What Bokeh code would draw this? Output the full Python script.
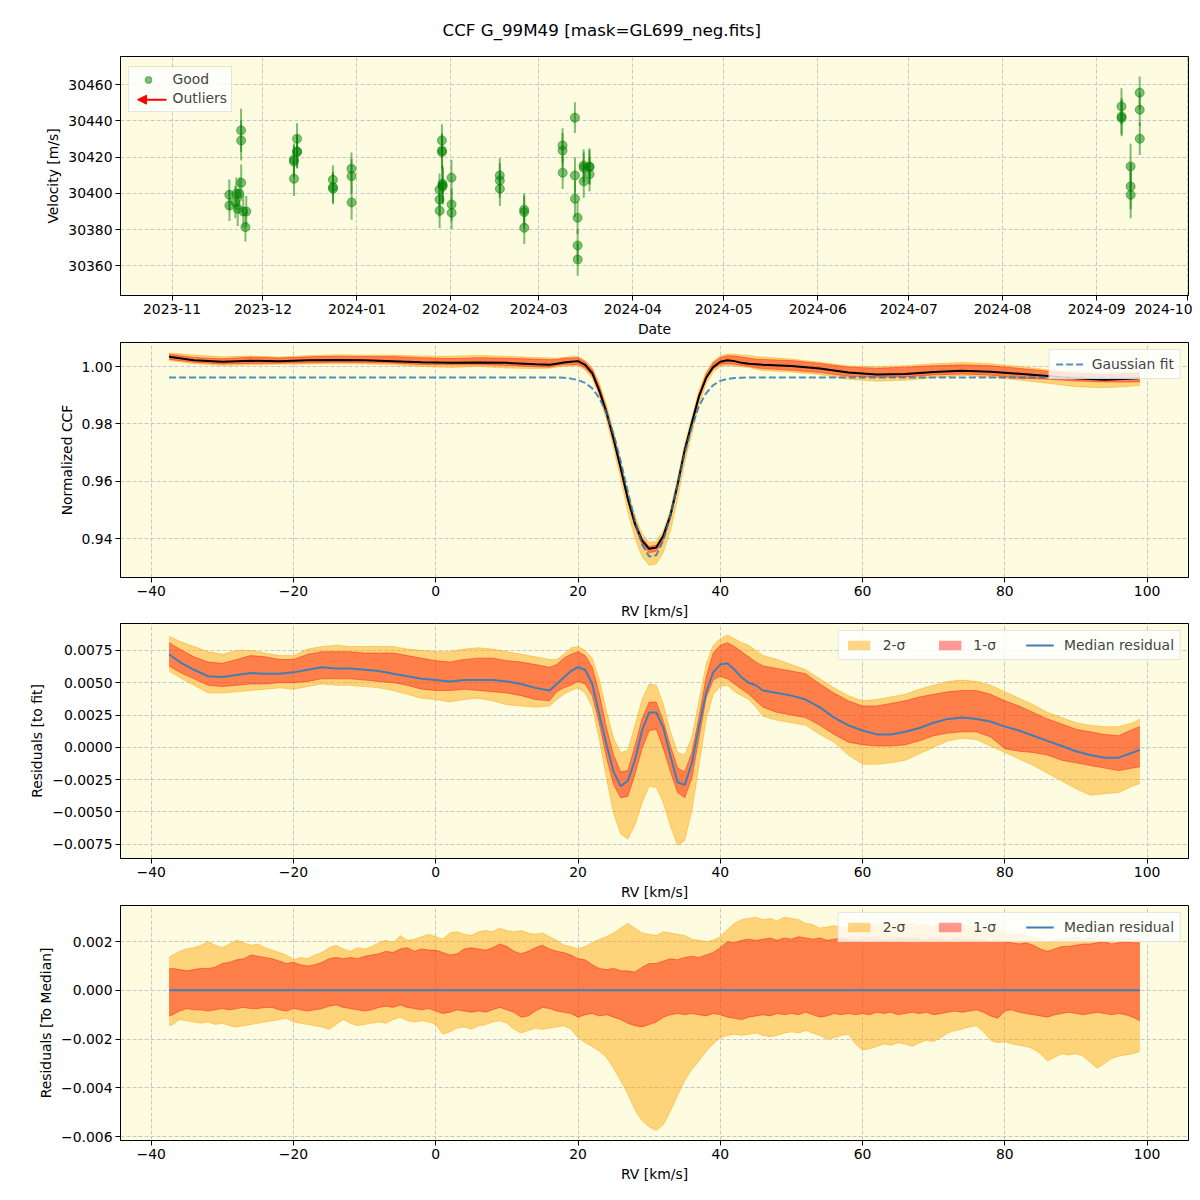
import pandas as pd
from bokeh.plotting import figure
from bokeh.layouts import column
from bokeh.models import (ColumnDataSource, Range1d, Legend, LegendItem, Arrow,
                          NormalHead, FixedTicker, DatetimeTickFormatter,
                          CustomJSTickFormatter, BoxAnnotation)
from bokeh.embed import file_html
from bokeh.resources import INLINE

# ---------------------------------------------------------------- data
TITLE = "CCF G_99M49 [mask=GL699_neg.fits]"

obs_time = [
    "2023-11-19 21:30", "2023-11-19 22:30", "2023-11-21 21:00", "2023-11-22 05:00",
    "2023-11-22 16:00", "2023-11-23 05:00", "2023-11-23 18:30", "2023-11-23 19:00",
    "2023-11-23 19:30", "2023-11-24 12:00", "2023-11-25 05:00", "2023-11-25 12:00",
    "2023-12-11 04:30", "2023-12-11 05:00", "2023-12-11 05:30",
    "2023-12-12 05:30", "2023-12-12 06:00", "2023-12-12 06:30",
    "2023-12-24 01:30", "2023-12-24 02:00", "2023-12-24 02:30",
    "2023-12-30 04:30", "2023-12-30 05:00", "2023-12-30 05:30",
    "2024-01-28 05:30", "2024-01-28 06:00", "2024-01-28 06:30",
    "2024-01-29 00:30", "2024-01-29 01:00", "2024-01-29 01:30",
    "2024-01-29 05:00", "2024-01-29 05:30", "2024-01-29 06:00",
    "2024-02-01 04:30", "2024-02-01 05:00", "2024-02-01 05:30",
    "2024-02-17 02:30", "2024-02-17 03:00", "2024-02-17 03:30",
    "2024-02-25 03:30", "2024-02-25 04:00", "2024-02-25 04:30",
    "2024-03-08 19:30", "2024-03-08 20:00", "2024-03-08 20:30",
    "2024-03-12 21:30", "2024-03-12 22:00", "2024-03-12 22:30",
    "2024-03-13 18:30", "2024-03-13 19:00", "2024-03-13 19:30",
    "2024-03-15 18:30", "2024-03-15 19:00", "2024-03-15 19:30",
    "2024-03-17 16:30", "2024-03-17 17:00", "2024-03-17 17:30",
    "2024-09-09 04:30", "2024-09-09 05:00", "2024-09-09 05:30",
    "2024-09-12 04:30", "2024-09-12 05:00", "2024-09-12 05:30",
    "2024-09-15 04:30", "2024-09-15 05:00", "2024-09-15 05:30",
]
obs_rv = [
    30399.2, 30393.3, 30395.2, 30399.8, 30391.5, 30399.8, 30434.8, 30429.2,
    30405.9, 30390.0, 30381.4, 30390.0,
    30417.6, 30418.7, 30408.1, 30430.2, 30422.8, 30423.2,
    30407.5, 30403.5, 30402.5, 30413.6, 30409.5, 30395.0,
    30402.0, 30396.6, 30390.4, 30429.2, 30423.7, 30422.8,
    30405.3, 30404.4, 30403.8, 30408.6, 30393.9, 30389.3,
    30409.9, 30407.1, 30402.5, 30391.0, 30389.7, 30381.0,
    30426.5, 30423.7, 30411.4, 30441.8, 30409.9, 30397.0,
    30386.5, 30371.2, 30363.5, 30415.4, 30414.1, 30406.6,
    30414.9, 30414.5, 30410.5,
    30448.0, 30442.5, 30441.6, 30414.9, 30403.8, 30399.2,
    30455.6, 30446.2, 30430.2,
]
obs_err = [
    8.5, 8.5, 9.0, 9.0, 9.5, 9.0, 12.0, 11.0, 10.0, 9.0, 8.0, 8.5,
    9.0, 9.0, 9.5, 8.5, 9.0, 9.0,
    8.0, 8.5, 8.5, 9.0, 9.5, 9.5,
    9.0, 9.5, 9.5, 9.0, 9.5, 9.5, 10.0, 10.0, 10.0, 10.0, 9.0, 9.0,
    9.5, 9.5, 9.5, 9.0, 9.0, 9.0,
    9.5, 9.5, 9.0, 8.5, 10.0, 10.0, 9.0, 9.0, 9.0, 9.0, 8.5, 9.0,
    10.0, 9.5, 9.5,
    10.0, 10.0, 10.0, 12.5, 12.5, 13.0, 9.0, 9.0, 9.0,
]

month_ticks = ["2023-11-01", "2023-12-01", "2024-01-01", "2024-02-01",
               "2024-03-01", "2024-04-01", "2024-05-01", "2024-06-01",
               "2024-07-01", "2024-08-01", "2024-09-01", "2024-10-01"]
vel_ticks = [30360, 30380, 30400, 30420, 30440, 30460]
rv_ticks = [-40, -20, 0, 20, 40, 60, 80, 100]
ccf_ticks = [0.94, 0.96, 0.98, 1.00]
res_ticks = [-0.0075, -0.005, -0.0025, 0.0, 0.0025, 0.005, 0.0075]
med_ticks = [-0.006, -0.004, -0.002, 0.0, 0.002]

# --- panel 2: normalized CCF (median, 1/2-sigma envelopes) and Gaussian fit
rv2 = [-37.5, -34, -30, -26, -22, -18, -14, -10, -6, -2, 2, 6, 10, 14, 16,
       17, 18, 19, 20, 21, 22, 23, 24, 25, 26, 27, 28, 29, 30, 31, 32, 33, 34,
       35, 36, 37, 38, 39, 40, 41, 42, 43, 44, 45,
       46, 50, 54, 58, 62, 66, 70, 74, 78, 82, 86, 90, 94, 98, 99]
ccf_med = [1.0034, 1.0022, 1.0017, 1.0020, 1.0019, 1.0022, 1.0023, 1.0022, 1.0019, 1.0015,
           1.0013, 1.0014, 1.0013, 1.0008, 1.0006,
           1.0010, 1.0014, 1.0017, 1.0019, 1.0006, 0.9977, 0.9915, 0.9840, 0.9747, 0.9645,
           0.9539, 0.9452, 0.9393, 0.9364, 0.9369, 0.9410, 0.9482, 0.9588, 0.9708, 0.9803,
           0.9896, 0.9960, 0.9998, 1.0017, 1.0022, 1.0019, 1.0013, 1.0010, 1.0008,
           1.0006, 1.0002, 0.9993, 0.9979, 0.9972, 0.9974, 0.9981, 0.9985, 0.9982, 0.9975,
           0.9967, 0.9959, 0.9954, 0.9958, 0.9960]
ccf_2s_hi = [1.0048, 1.0040, 1.0034, 1.0037, 1.0033, 1.0038, 1.0041, 1.0040, 1.0040, 1.0037,
             1.0036, 1.0039, 1.0036, 1.0032, 1.0030,
             1.0029, 1.0032, 1.0035, 1.0035, 1.0021, 0.9997, 0.9942, 0.9866, 0.9773, 0.9671,
             0.9563, 0.9479, 0.9417, 0.9386, 0.9390, 0.9428, 0.9501, 0.9611, 0.9731, 0.9823,
             0.9916, 0.9982, 1.0019, 1.0037, 1.0044, 1.0043, 1.0040, 1.0039, 1.0035,
             1.0033, 1.0026, 1.0015, 1.0002, 0.9999, 1.0003, 1.0010, 1.0014, 1.0010, 1.0000,
             0.9989, 0.9981, 0.9978, 0.9981, 0.9984]
ccf_1s_hi = [1.0043, 1.0032, 1.0027, 1.0033, 1.0030, 1.0034, 1.0036, 1.0035, 1.0035, 1.0031,
             1.0028, 1.0031, 1.0029, 1.0026, 1.0024,
             1.0025, 1.0029, 1.0030, 1.0031, 1.0017, 0.9990, 0.9931, 0.9853, 0.9760, 0.9656,
             0.9547, 0.9463, 0.9402, 0.9372, 0.9377, 0.9415, 0.9490, 0.9599, 0.9718, 0.9811,
             0.9903, 0.9972, 1.0013, 1.0032, 1.0038, 1.0037, 1.0033, 1.0030, 1.0026,
             1.0025, 1.0021, 1.0011, 0.9998, 0.9994, 0.9998, 1.0003, 1.0006, 1.0003, 0.9994,
             0.9984, 0.9976, 0.9972, 0.9976, 0.9978]
ccf_1s_lo = [1.0025, 1.0015, 1.0009, 1.0011, 1.0012, 1.0013, 1.0015, 1.0014, 1.0012, 1.0007,
             1.0006, 1.0006, 1.0004, 0.9999, 0.9998,
             1.0004, 1.0006, 1.0006, 1.0008, 0.9995, 0.9968, 0.9908, 0.9830, 0.9737, 0.9636,
             0.9527, 0.9441, 0.9379, 0.9350, 0.9356, 0.9394, 0.9470, 0.9580, 0.9698, 0.9791,
             0.9887, 0.9956, 0.9992, 1.0008, 1.0010, 1.0008, 1.0004, 1.0001, 0.9996,
             0.9993, 0.9987, 0.9979, 0.9966, 0.9963, 0.9964, 0.9971, 0.9974, 0.9970, 0.9959,
             0.9956, 0.9950, 0.9946, 0.9946, 0.9947]
ccf_2s_lo = [1.0021, 1.0010, 1.0004, 1.0006, 1.0008, 1.0009, 1.0010, 1.0009, 1.0006, 1.0000,
             0.9997, 1.0000, 0.9995, 0.9993, 0.9994,
             0.9998, 1.0001, 1.0002, 1.0003, 0.9988, 0.9959, 0.9896, 0.9814, 0.9715, 0.9608,
             0.9494, 0.9402, 0.9337, 0.9307, 0.9311, 0.9352, 0.9428, 0.9539, 0.9665, 0.9766,
             0.9866, 0.9939, 0.9981, 1.0000, 1.0005, 1.0002, 0.9999, 0.9997, 0.9991,
             0.9986, 0.9981, 0.9972, 0.9956, 0.9949, 0.9952, 0.9962, 0.9969, 0.9963, 0.9953,
             0.9942, 0.9930, 0.9926, 0.9932, 0.9934]
gauss_fit = [0.9962, 0.9962, 0.9962, 0.9962, 0.9962, 0.9962, 0.9962, 0.9962, 0.9962, 0.9962,
             0.9962, 0.9962, 0.9962, 0.9962, 0.9962,
             0.9962, 0.9961, 0.9958, 0.9953, 0.9943, 0.9924, 0.9890, 0.9838, 0.9764, 0.9670,
             0.9564, 0.9462, 0.9380, 0.9337, 0.9342, 0.9394, 0.9481, 0.9586, 0.9697, 0.9790,
             0.9862, 0.9907, 0.9935, 0.9950, 0.9957, 0.9960, 0.9961, 0.9962, 0.9962,
             0.9962, 0.9962, 0.9962, 0.9962, 0.9962, 0.9962, 0.9962, 0.9962, 0.9962, 0.9962,
             0.9962, 0.9962, 0.9962, 0.9962, 0.9962]

# --- panel 3: residuals to fit (values in units of 1e-3)
rv3 = [-37.5, -36, -34, -32, -30, -28, -26, -24, -22, -20, -18, -16, -14, -12,
       -10, -8, -6, -4, -2, 0, 2, 4, 6, 8, 10, 12, 14, 16,
       17, 18, 19, 20, 21, 22, 23, 24, 25, 26, 27, 28, 29, 30, 31, 32, 33, 34,
       35, 36, 37, 38, 39, 40, 41, 42, 43, 44, 45,
       46, 48, 50, 52, 54, 56, 58, 60, 62, 64, 66, 68, 70, 72, 74, 76, 78, 80,
       82, 84, 86, 88, 90, 92, 94, 96, 98, 99]
res_med_e3 = [7.2, 6.6, 6.0, 5.5, 5.45, 5.6, 5.75, 5.7, 5.7, 5.8, 6.0, 6.2, 6.1, 6.1,
              6.0, 5.9, 5.7, 5.5, 5.3, 5.2, 5.1, 5.2, 5.2, 5.2, 5.1, 4.9, 4.6, 4.4,
              4.9, 5.4, 5.9, 6.2, 6.0, 4.9, 2.5, 0.2, -1.9, -3.0, -2.6, -1.0, 1.3, 2.7,
              2.7, 1.5, -0.7, -2.7, -2.9, -1.2, 1.6, 4.2, 5.8, 6.4, 6.5, 6.0, 5.4, 5.0, 4.8,
              4.4, 4.2, 4.0, 3.7, 3.1, 2.3, 1.7, 1.3, 1.0, 1.0, 1.2, 1.5, 1.9, 2.2,
              2.3, 2.2, 2.0, 1.6, 1.3, 0.9, 0.5, 0.1, -0.3, -0.6, -0.8, -0.8, -0.4, -0.2]
res_2s_hi_e3 = [8.6, 8.2, 7.8, 7.4, 7.2, 7.5, 7.5, 7.3, 7.1, 7.1, 7.6, 7.8, 7.9, 7.8,
                7.8, 7.8, 7.8, 7.6, 7.5, 7.4, 7.4, 7.6, 7.7, 7.6, 7.4, 7.2, 7.0, 6.8,
                6.8, 7.2, 7.7, 7.8, 7.5, 6.9, 5.2, 2.8, 0.7, -0.4, -0.25, 1.7, 3.7, 4.9,
                4.8, 3.3, 1.2, -0.4, -0.6, 0.8, 3.6, 6.4, 7.9, 8.4, 8.7, 8.4, 8.1, 7.9, 7.5,
                7.1, 6.8, 6.4, 6.0, 5.3, 4.6, 4.0, 3.6, 3.7, 3.9, 4.1, 4.5, 4.8, 5.1,
                5.2, 5.1, 4.8, 4.3, 3.8, 3.3, 2.7, 2.3, 1.9, 1.7, 1.6, 1.6, 1.9, 2.2]
res_1s_hi_e3 = [8.1, 7.6, 7.0, 6.6, 6.5, 6.8, 7.1, 7.0, 6.8, 6.8, 7.2, 7.4, 7.4, 7.4,
                7.3, 7.3, 7.3, 7.1, 6.9, 6.7, 6.6, 6.8, 6.9, 6.9, 6.7, 6.6, 6.4, 6.2,
                6.4, 6.9, 7.2, 7.4, 7.1, 6.2, 4.1, 1.5, -0.6, -1.9, -1.8, 0.1, 2.2, 3.5,
                3.5, 2.0, 0.1, -1.6, -1.9, -0.4, 2.3, 5.4, 7.3, 7.9, 8.1, 7.8, 7.4, 7.0, 6.6,
                6.3, 6.1, 5.9, 5.7, 4.9, 4.2, 3.6, 3.2, 3.2, 3.4, 3.6, 3.9, 4.1, 4.3,
                4.4, 4.4, 4.1, 3.6, 3.2, 2.7, 2.2, 1.8, 1.4, 1.2, 1.0, 0.9, 1.4, 1.6]
res_1s_lo_e3 = [6.3, 5.8, 5.3, 4.8, 4.7, 4.8, 4.9, 4.9, 5.0, 5.0, 5.1, 5.3, 5.3, 5.3,
                5.2, 5.1, 5.0, 4.8, 4.5, 4.4, 4.4, 4.5, 4.4, 4.3, 4.2, 4.0, 3.7, 3.6,
                4.3, 4.6, 4.8, 5.1, 4.9, 4.0, 1.8, -0.8, -2.9, -3.9, -3.8, -2.1, -0.1, 1.3,
                1.4, -0.1, -1.9, -3.5, -3.9, -2.4, 0.7, 3.8, 5.2, 5.5, 5.3, 4.9, 4.5, 4.1, 3.6,
                3.1, 2.7, 2.5, 2.3, 1.7, 1.0, 0.4, 0.2, 0.1, 0.1, 0.2, 0.5, 0.9, 1.1,
                1.2, 1.2, 0.8, -0.1, -0.3, -0.4, -0.6, -1.0, -1.2, -1.4, -1.6, -1.8, -1.6, -1.5]
res_2s_lo_e3 = [5.9, 5.4, 4.8, 4.2, 4.2, 4.3, 4.4, 4.5, 4.6, 4.5, 4.7, 4.9, 4.8, 4.8,
                4.7, 4.6, 4.4, 4.1, 3.8, 3.7, 3.5, 3.7, 3.8, 3.6, 3.3, 3.2, 3.1, 3.2,
                3.7, 4.1, 4.4, 4.6, 4.2, 3.1, 0.6, -2.4, -5.1, -6.7, -7.1, -6.0, -4.3, -3.0,
                -3.1, -4.3, -6.1, -7.6, -7.2, -4.9, -1.4, 2.1, 4.1, 4.7, 4.8, 4.3, 4.0, 3.7, 3.1,
                2.4, 2.1, 1.9, 1.7, 1.0, 0.4, -0.6, -1.3, -1.3, -1.2, -1.0, -0.5, 0.0, 0.5,
                0.7, 0.6, 0.1, -0.4, -0.9, -1.4, -2.0, -2.6, -3.2, -3.7, -3.6, -3.5, -3.0, -2.8]

# --- panel 4: residuals to median (values in units of 1e-3)
rv4 = [-37.5, -37, -36, -35, -34, -33, -32, -31, -30,
       -29, -28, -27, -26, -25, -24, -23, -22, -21, -20,
       -19, -18, -17, -16, -15, -14, -13, -12, -11, -10,
       -9, -8, -7, -6, -5, -4, -3, -2, -1, 0,
       1, 2, 3, 4, 5, 6, 7, 8, 9, 10,
       11, 12, 13, 14, 15, 16, 17, 18, 19, 20,
       21, 22, 23, 24, 25, 26, 27, 28, 29, 30,
       31, 32, 33, 34, 35, 36, 37, 38, 39, 40,
       41, 42, 43, 44, 45, 46, 47, 48, 49, 50,
       51, 52, 53, 54, 55, 56, 57, 58, 59, 60,
       61, 62, 63, 64, 65, 66, 67, 68, 69, 70,
       71, 72, 73, 74, 75, 76, 77, 78, 79, 80,
       81, 82, 83, 84, 85, 86, 87, 88, 89, 90,
       91, 92, 93, 94, 95, 96, 97, 98, 99]
dev_2s_hi_e3 = [1.35, 1.45, 1.6, 1.7, 1.75, 1.85, 2.0, 1.85, 1.75,
                1.9, 2.05, 1.95, 1.85, 1.9, 1.75, 1.65, 1.55, 1.45, 1.25,
                1.35, 1.3, 1.45, 1.55, 1.75, 1.85, 1.7, 1.6, 1.75, 1.7,
                1.8, 1.95, 2.05, 1.95, 2.25, 2.05, 2.1, 2.2, 2.3, 2.2,
                2.1, 2.35, 2.4, 2.3, 2.25, 2.4, 2.45, 2.4, 2.55, 2.45,
                2.4, 2.45, 2.35, 2.3, 2.35, 2.2, 2.05, 1.85, 1.8, 1.7,
                1.8, 1.95, 2.1, 2.2, 2.35, 2.55, 2.75, 2.55, 2.35, 2.3,
                2.25, 2.4, 2.35, 2.3, 2.25, 2.1, 2.05, 2.0, 2.05, 2.2,
                2.5, 2.75, 2.9, 2.95, 3.0, 2.9, 2.95, 2.85, 3.0, 2.95,
                2.9, 2.75, 2.7, 2.55, 2.6, 2.65, 2.6, 2.55, 2.65, 2.6,
                2.7, 2.65, 2.75, 2.7, 2.8, 2.7, 2.75, 2.65, 2.7, 2.6,
                2.7, 2.65, 2.6, 2.7, 2.6, 2.65, 2.55, 2.5, 2.45, 2.4,
                2.3, 2.35, 2.25, 2.2, 2.1, 1.95, 2.05, 2.1, 2.15, 2.2,
                2.1, 2.15, 2.2, 2.1, 2.15, 2.1, 2.15, 2.1, 2.1]
dev_1s_hi_e3 = [0.9, 0.9, 0.85, 0.8, 0.85, 0.9, 0.9, 0.95, 1.1,
                1.15, 1.25, 1.3, 1.45, 1.4, 1.35, 1.3, 1.2, 1.1, 1.15,
                1.05, 1.0, 1.05, 1.15, 1.3, 1.35, 1.3, 1.35, 1.3, 1.4,
                1.45, 1.5, 1.6, 1.55, 1.7, 1.75, 1.6, 1.7, 1.65, 1.65,
                1.55, 1.45, 1.5, 1.7, 1.75, 1.7, 1.65, 1.75, 1.9, 1.8,
                1.6, 1.5, 1.6, 1.75, 1.85, 1.7, 1.6, 1.55, 1.45, 1.3,
                1.25, 1.05, 0.9, 0.85, 0.9, 0.8, 0.8, 0.75, 0.95, 1.1,
                1.1, 1.2, 1.3, 1.25, 1.35, 1.4, 1.35, 1.45, 1.55, 1.75,
                2.0, 1.95, 2.05, 2.1, 2.05, 2.1, 2.15, 2.05, 2.15, 2.1,
                2.2, 2.15, 2.1, 2.15, 2.05, 2.1, 2.15, 2.1, 2.05, 2.1,
                2.15, 2.1, 2.05, 2.1, 2.15, 2.1, 2.15, 2.1, 2.05, 2.15,
                2.1, 2.05, 2.15, 2.1, 2.05, 2.1, 2.05, 2.0, 2.05, 2.0,
                1.95, 1.9, 1.95, 1.85, 1.7, 1.6, 1.7, 1.8, 1.8, 1.85,
                1.9, 1.9, 1.95, 2.0, 1.9, 1.95, 2.0, 1.95, 1.95]
dev_1s_lo_e3 = [-1.05, -1.0, -0.85, -0.75, -0.8, -0.8, -0.85, -0.8, -0.75,
                -0.8, -0.75, -0.7, -0.75, -0.75, -0.7, -0.7, -0.8, -0.85, -0.75,
                -0.8, -0.85, -0.8, -0.75, -0.65, -0.6, -0.7, -0.75, -0.8, -0.85,
                -0.8, -0.7, -0.65, -0.7, -0.6, -0.7, -0.75, -0.8, -0.75, -0.85,
                -0.95, -0.9, -0.8, -0.85, -0.9, -0.85, -0.9, -0.8, -0.7, -0.8,
                -0.9, -1.1, -1.05, -0.85, -0.7, -0.75, -0.85, -0.9, -0.95, -1.1,
                -1.0, -0.95, -1.05, -1.0, -1.1, -1.2, -1.35, -1.45, -1.5, -1.4,
                -1.3, -1.1, -1.0, -0.95, -1.0, -0.95, -1.0, -1.05, -0.95, -1.0,
                -1.1, -1.15, -1.2, -1.1, -1.05, -1.0, -1.05, -0.95, -1.0, -0.95,
                -1.0, -0.9, -1.0, -1.1, -1.05, -0.95, -1.0, -0.95, -1.0, -0.95,
                -1.0, -0.9, -0.95, -0.9, -1.0, -0.95, -0.9, -0.95, -0.9, -1.0,
                -0.95, -0.9, -0.85, -0.9, -0.85, -0.8, -0.9, -1.05, -1.15, -0.85,
                -0.8, -0.9, -0.95, -1.0, -1.05, -1.1, -1.0, -0.95, -0.9, -0.95,
                -1.0, -0.95, -0.9, -0.95, -1.0, -0.95, -1.0, -1.1, -1.25]
dev_2s_lo_e3 = [-1.45, -1.4, -1.2, -1.25, -1.3, -1.35, -1.3, -1.4, -1.35,
                -1.45, -1.5, -1.45, -1.4, -1.35, -1.3, -1.25, -1.2, -1.15, -1.3,
                -1.35, -1.4, -1.45, -1.5, -1.6, -1.4, -1.2, -1.35, -1.45, -1.4,
                -1.35, -1.3, -1.35, -1.2, -1.1, -1.25, -1.3, -1.25, -1.3, -1.4,
                -1.8, -1.7, -1.55, -1.5, -1.6, -1.45, -1.4, -1.3, -1.25, -1.35,
                -1.6, -1.75, -1.65, -1.55, -1.6, -1.55, -1.5, -1.45, -1.6, -1.95,
                -2.15, -2.3, -2.5, -2.75, -3.2, -3.7, -4.25, -4.9, -5.35, -5.6,
                -5.75, -5.5, -4.95, -4.3, -3.7, -3.25, -2.9, -2.5, -2.2, -1.95,
                -1.85, -1.8, -1.85, -1.8, -1.75, -1.85, -1.9, -1.85, -1.75, -1.7,
                -1.75, -1.65, -1.75, -1.85, -2.0, -1.95, -1.85, -1.8, -2.2, -2.45,
                -2.4, -2.3, -2.2, -2.25, -2.15, -2.2, -2.3, -2.15, -2.05, -2.1,
                -1.95, -1.75, -1.65, -1.6, -1.5, -1.45, -1.7, -2.05, -2.15, -2.1,
                -2.2, -2.25, -2.3, -2.4, -2.6, -2.9, -2.75, -2.6, -2.65, -2.6,
                -2.7, -2.95, -3.2, -3.0, -2.8, -2.7, -2.65, -2.6, -2.5]
dev_med_rv = [-37.5, 99.0]
dev_med = [0.0, 0.0]

# ---------------------------------------------------------------- style
FONT = "DejaVu Sans"
FS = "13.9px"
BG = "#fefce0"
ORANGE = "#ffa500"
RED = "#ff0000"
BLUE = "#3f7fb5"
GRID = "#c8c8c8"
W = 1192
E3 = 1e-3


def make_fig(height, top, x_range, y_range, x_type="linear"):
    p = figure(width=W, height=height, x_range=x_range, y_range=y_range,
               x_axis_type=x_type, output_backend="svg", toolbar_location=None,
               min_border_left=120, min_border_right=4, min_border_top=top,
               min_border_bottom=44, background_fill_color=BG,
               border_fill_color="white", outline_line_color="black",
               outline_line_width=1)
    return p


def style(p, xlabel, ylabel):
    p.xaxis.axis_label = xlabel
    p.yaxis.axis_label = ylabel
    for ax in (p.xaxis[0], p.yaxis[0]):
        ax.axis_line_color = "black"
        ax.major_tick_line_color = "black"
        ax.major_tick_out = 5
        ax.major_tick_in = 0
        ax.minor_tick_out = 0
        ax.minor_tick_in = 0
        ax.major_label_text_font = FONT
        ax.major_label_text_font_size = FS
        ax.major_label_text_color = "black"
        ax.axis_label_text_font = FONT
        ax.axis_label_text_font_size = FS
        ax.axis_label_text_font_style = "normal"
        ax.axis_label_text_color = "black"
        ax.major_label_standoff = 3
        ax.axis_label_standoff = 4
    p.grid.grid_line_color = GRID
    p.grid.grid_line_dash = "4 2"
    p.grid.grid_line_width = 1


def fmt(digits):
    return CustomJSTickFormatter(
        code="return tick.toFixed(%d).replace('-', '\u2212');" % digits)


def legend_style(leg):
    leg.label_text_font = FONT
    leg.label_text_font_size = FS
    leg.background_fill_color = "white"
    leg.background_fill_alpha = 0.8
    leg.border_line_color = "#cccccc"
    leg.border_line_width = 1


# ---------------------------------------------------------------- panel 1
t = pd.to_datetime(obs_time)
src1 = ColumnDataSource(dict(
    t=t, v=obs_rv,
    lo=[v - e for v, e in zip(obs_rv, obs_err)],
    hi=[v + e for v, e in zip(obs_rv, obs_err)]))

p1 = make_fig(339, 56,
              Range1d(pd.Timestamp("2023-10-15 00:00"), pd.Timestamp("2024-10-01 07:00")),
              Range1d(30343.6, 30475.6), x_type="datetime")
style(p1, "Date", "Velocity [m/s]")
p1.xaxis.ticker = FixedTicker(ticks=[pd.Timestamp(m).value / 1e6 for m in month_ticks])
p1.xaxis.formatter = DatetimeTickFormatter(
    microseconds="%Y-%m", milliseconds="%Y-%m", seconds="%Y-%m", minsec="%Y-%m",
    minutes="%Y-%m", hourmin="%Y-%m", hours="%Y-%m", days="%Y-%m",
    months="%Y-%m", years="%Y-%m")
p1.yaxis.ticker = FixedTicker(ticks=vel_ticks)
p1.yaxis.formatter = fmt(0)

# white legend panel drawn beneath the arrow and the legend entries
p1.add_layout(BoxAnnotation(left=7.6, right=110.6, bottom=183.3, top=227.3,
                            left_units="screen", right_units="screen",
                            bottom_units="screen", top_units="screen",
                            fill_color="white", fill_alpha=0.8,
                            line_color=None, level="underlay"))

p1.segment(x0="t", y0="lo", x1="t", y1="hi", source=src1,
           line_color="green", line_alpha=0.5, line_width=2)
good = p1.scatter(x="t", y="v", source=src1, size=9, marker="circle",
                  fill_color="green", fill_alpha=0.5,
                  line_color="green", line_alpha=0.5, line_width=1)
outl = p1.line(x=[], y=[], line_color="red", line_alpha=0.0, line_width=2)

p1.title.text = TITLE
p1.title.align = "left"
p1.title.offset = 322
p1.title.text_font = FONT
p1.title.text_font_size = "16.7px"
p1.title.text_font_style = "normal"
p1.title.text_color = "black"
p1.title.standoff = 34

p1.add_layout(Arrow(x_start=46, y_start=195.8, x_end=17, y_end=195.8,
                    start_units="screen", end_units="screen",
                    line_color="red", line_width=2,
                    end=NormalHead(size=9, fill_color="red", line_color="red")))
leg1 = Legend(items=[LegendItem(label="Good", renderers=[good]),
                     LegendItem(label="Outliers", renderers=[outl])],
              location=(7.6, 183.3), orientation="vertical",
              padding=4, spacing=2, glyph_width=30, glyph_height=17,
              label_standoff=10, margin=0)
legend_style(leg1)
leg1.background_fill_alpha = 0.0
p1.add_layout(leg1)

# ---------------------------------------------------------------- panel 2
XR = (-44.325, 105.825)
src2 = ColumnDataSource(dict(rv=rv2, med=ccf_med, h2=ccf_2s_hi, h1=ccf_1s_hi,
                             l1=ccf_1s_lo, l2=ccf_2s_lo, g=gauss_fit))
p2 = make_fig(282, 3, Range1d(*XR), Range1d(0.9264, 1.0084))
style(p2, "RV [km/s]", "Normalized CCF")
p2.xaxis.ticker = FixedTicker(ticks=rv_ticks)
p2.xaxis.formatter = fmt(0)
p2.yaxis.ticker = FixedTicker(ticks=ccf_ticks)
p2.yaxis.formatter = fmt(2)
p2.varea(x="rv", y1="l2", y2="h2", source=src2, fill_color=ORANGE, fill_alpha=0.45)
p2.line(x="rv", y="l2", source=src2, line_color=ORANGE, line_alpha=0.45, line_width=1)
p2.line(x="rv", y="h2", source=src2, line_color=ORANGE, line_alpha=0.45, line_width=1)
p2.varea(x="rv", y1="l1", y2="h1", source=src2, fill_color=RED, fill_alpha=0.4)
p2.line(x="rv", y="l1", source=src2, line_color=RED, line_alpha=0.4, line_width=1)
p2.line(x="rv", y="h1", source=src2, line_color=RED, line_alpha=0.4, line_width=1)
p2.line(x="rv", y="med", source=src2, line_color="black", line_width=2)
gl = p2.line(x="rv", y="g", source=src2, line_color="#1f77b4", line_alpha=0.8,
             line_width=2, line_dash="7 3")
leg2 = Legend(items=[LegendItem(label="Gaussian fit", renderers=[gl])],
              location="top_right", margin=7, padding=6, spacing=0,
              glyph_width=28, glyph_height=14, label_standoff=8)
legend_style(leg2)
p2.add_layout(leg2)


# ---------------------------------------------------------------- panels 3 & 4
def band_panel(p, rv, med_rv, med, h2, h1, l1, l2):
    src = ColumnDataSource(dict(rv=rv, h2=h2, h1=h1, l1=l1, l2=l2))
    a2 = p.varea(x="rv", y1="l2", y2="h2", source=src, fill_color=ORANGE, fill_alpha=0.45)
    p.line(x="rv", y="l2", source=src, line_color=ORANGE, line_alpha=0.45, line_width=1)
    p.line(x="rv", y="h2", source=src, line_color=ORANGE, line_alpha=0.45, line_width=1)
    a1 = p.varea(x="rv", y1="l1", y2="h1", source=src, fill_color=RED, fill_alpha=0.4)
    p.line(x="rv", y="l1", source=src, line_color=RED, line_alpha=0.4, line_width=1)
    p.line(x="rv", y="h1", source=src, line_color=RED, line_alpha=0.4, line_width=1)
    ml = p.line(x=med_rv, y=med, line_color=BLUE, line_width=2)
    leg = Legend(items=[LegendItem(label="2-\u03c3", renderers=[a2]),
                        LegendItem(label="1-\u03c3", renderers=[a1]),
                        LegendItem(label="Median residual", renderers=[ml])],
                 location="top_right", orientation="horizontal", margin=7,
                 padding=6, spacing=30, glyph_width=28, glyph_height=12,
                 label_standoff=10)
    legend_style(leg)
    p.add_layout(leg)


p3 = make_fig(281, 2, Range1d(*XR), Range1d(-0.00860, 0.00958))
style(p3, "RV [km/s]", "Residuals [to fit]")
p3.xaxis.ticker = FixedTicker(ticks=rv_ticks)
p3.xaxis.formatter = fmt(0)
p3.yaxis.ticker = FixedTicker(ticks=res_ticks)
p3.yaxis.formatter = fmt(4)
band_panel(p3, rv3, rv3, [v * E3 for v in res_med_e3],
           [v * E3 for v in res_2s_hi_e3], [v * E3 for v in res_1s_hi_e3],
           [v * E3 for v in res_1s_lo_e3], [v * E3 for v in res_2s_lo_e3])

p4 = make_fig(282, 3, Range1d(*XR), Range1d(-0.00616, 0.00348))
style(p4, "RV [km/s]", "Residuals [To Median]")
p4.xaxis.ticker = FixedTicker(ticks=rv_ticks)
p4.xaxis.formatter = fmt(0)
p4.yaxis.ticker = FixedTicker(ticks=med_ticks)
p4.yaxis.formatter = fmt(3)
band_panel(p4, rv4, dev_med_rv, dev_med,
           [v * E3 for v in dev_2s_hi_e3], [v * E3 for v in dev_1s_hi_e3],
           [v * E3 for v in dev_1s_lo_e3], [v * E3 for v in dev_2s_lo_e3])

layout = column(p1, p2, p3, p4, spacing=0)
open("out.html", "w").write(file_html(layout, INLINE))
